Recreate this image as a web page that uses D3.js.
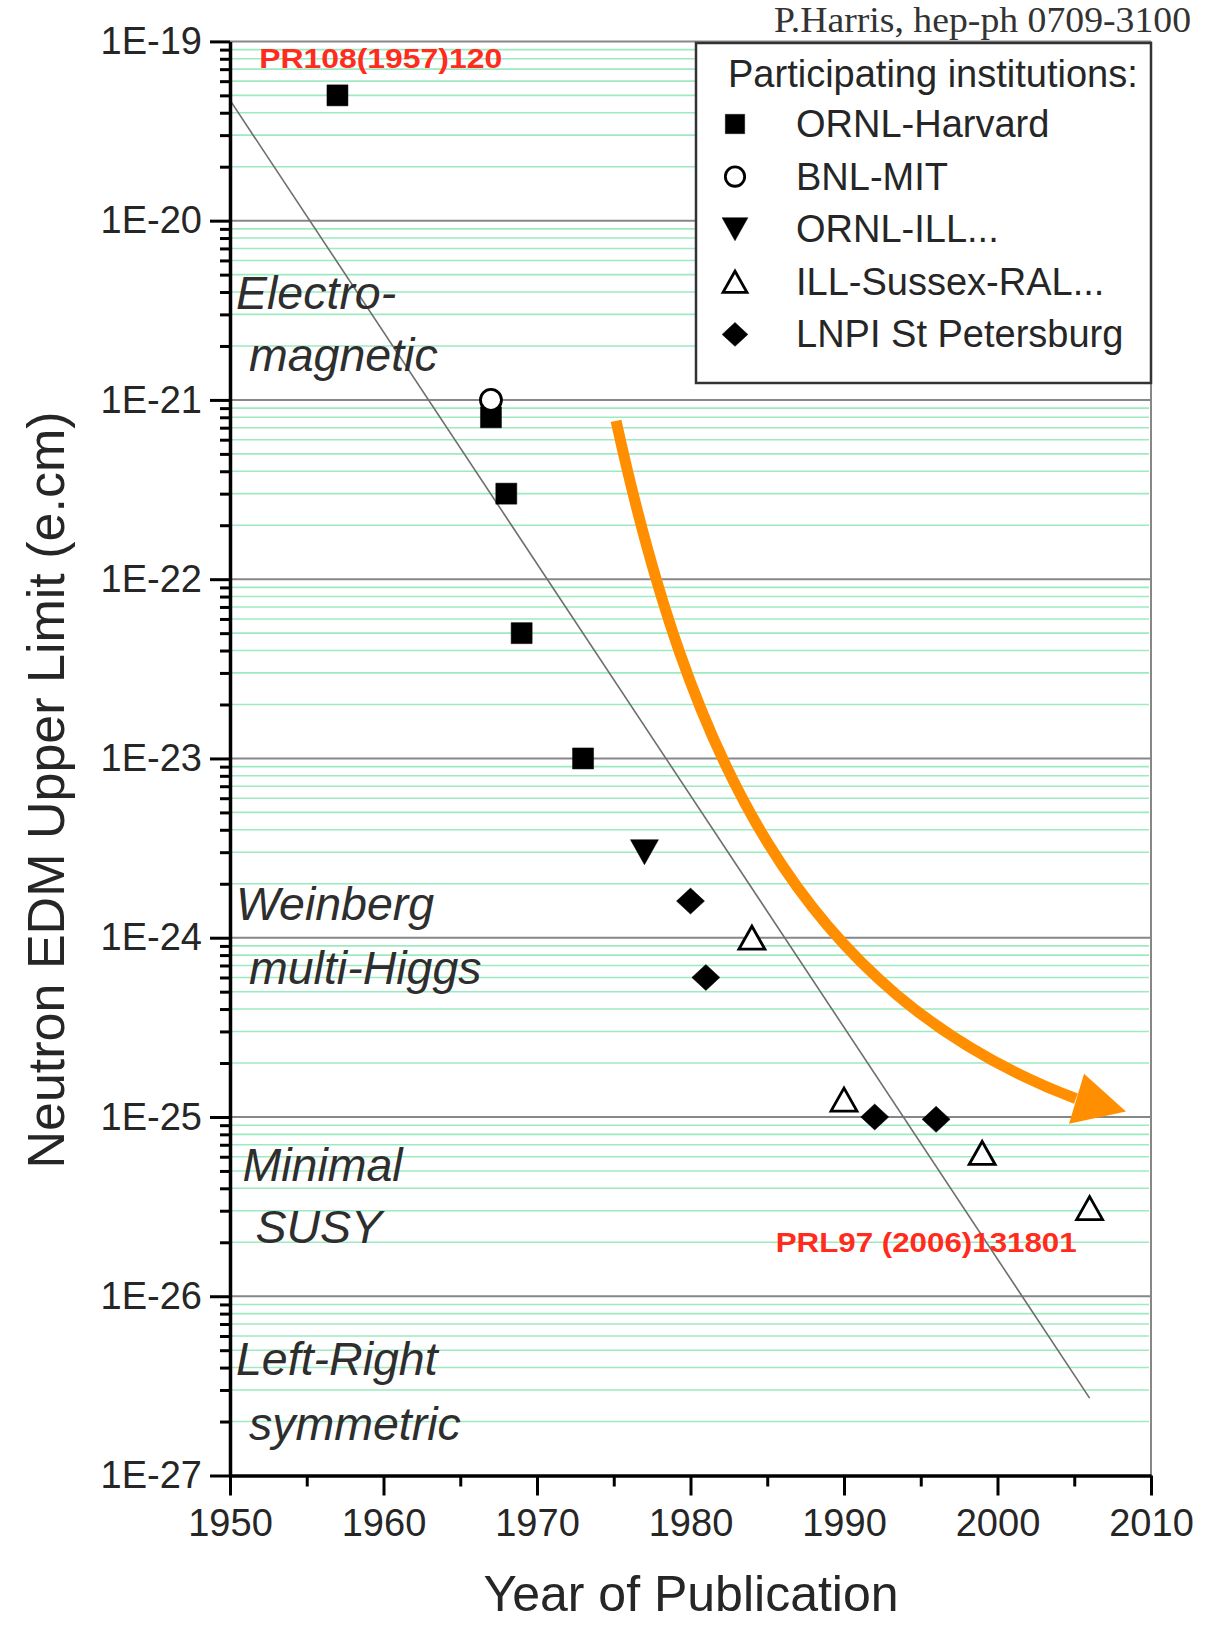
<!DOCTYPE html>
<html>
<head>
<meta charset="utf-8">
<script src="https://cdn.jsdelivr.net/npm/d3@7"></script>
<style>
  html, body { margin: 0; padding: 0; background: #fff; }
  svg { display: block; }
</style>
</head>
<body>
<svg id="chart" width="1206" height="1625"></svg>
<script>
// ---- Axis ticks ----
const yearTicks = [1950, 1960, 1970, 1980, 1990, 2000, 2010];
const minorYearTicks = [1955, 1965, 1975, 1985, 1995, 2005];
const decadeTicks = [1e-19, 1e-20, 1e-21, 1e-22, 1e-23, 1e-24, 1e-25, 1e-26, 1e-27];
const decadeLabels = ["1E-19", "1E-20", "1E-21", "1E-22", "1E-23", "1E-24", "1E-25", "1E-26", "1E-27"];

// ---- Measurements: neutron EDM upper limits (e.cm) by year of publication ----
const seriesNames = ["ORNL-Harvard", "BNL-MIT", "ORNL-ILL...", "ILL-Sussex-RAL...", "LNPI St Petersburg"];
const seriesShapes = ["square", "circle", "triangleDown", "triangleUp", "diamond"];

const ornlHarvardYears = [1957, 1967, 1968, 1969, 1973];
const ornlHarvardLimits = [5e-20, 8e-22, 3e-22, 5e-23, 1e-23];

const bnlMitYears = [1967];
const bnlMitLimits = [1e-21];

const ornlIllYears = [1977];
const ornlIllLimits = [3e-24];

const illSussexYears = [1984, 1990, 1999, 2006];
const illSussexLimits = [1e-24, 1.25e-25, 6.3e-26, 3.1e-26];

const lnpiYears = [1980, 1981, 1992, 1996];
const lnpiLimits = [1.6e-24, 6e-25, 1e-25, 9.7e-26];

// ---- Straight-line trend on the log scale ----
const trendYears = [1950, 2006];
const trendLimits = [4.7e-20, 2.7e-27];

// ---- Theory bands written along the left edge ----
const bandLines = ["Electro-", "magnetic", "Weinberg", "multi-Higgs", "Minimal", "SUSY", "Left-Right", "symmetric"];
const bandIndent = [0, 1, 0, 1, 0.5, 1.5, 0, 1];

// ---- Citations ----
const citeTexts = ["PR108(1957)120", "PRL97 (2006)131801"];
const citeYears = [1951.9, 1985.55];

// ---- Trend arrow: cubic Bezier control points (year, log10 limit) and head ----
const arrowCurveYears = [1975.15, 1979.88, 1986.87, 2005.11];
const arrowCurveLogs = [-21.117, -22.958, -24.305, -24.898];
const arrowHeadYears = [2008.37, 2005.64, 2004.66];
const arrowHeadLogs = [-24.970, -24.759, -25.038];

const series = [
  { years: ornlHarvardYears, limits: ornlHarvardLimits },
  { years: bnlMitYears, limits: bnlMitLimits },
  { years: ornlIllYears, limits: ornlIllLimits },
  { years: illSussexYears, limits: illSussexLimits },
  { years: lnpiYears, limits: lnpiLimits }
];

const svg = d3.select("#chart");
const sans = "'Liberation Sans', Arial, Helvetica, sans-serif";

const x = d3.scaleLinear().domain([1950, 2010]).range([230, 1151]);
const y = d3.scaleLog().domain([1e-19, 1e-27]).range([41.4, 1475.5]);
const [x0, x1] = x.range();
const [yTop, yBot] = y.range();

// minor decade ticks 2..9 within each decade
const minorValues = [];
for (let e = -27; e <= -20; e++) {
  for (let k = 2; k <= 9; k++) minorValues.push(+(k + "e" + e));
}

// ---- grid ----
const grid = svg.append("g");
grid.selectAll("line.minor")
  .data(minorValues)
  .join("line")
  .attr("x1", x0 + 2).attr("x2", x1 - 2)
  .attr("y1", d => y(d)).attr("y2", d => y(d))
  .attr("stroke", "#9eeac0")
  .attr("stroke-width", 1.6);

grid.selectAll("line.major")
  .data(decadeTicks.slice(0, -1))
  .join("line")
  .attr("x1", x0).attr("x2", x1)
  .attr("y1", d => y(d)).attr("y2", d => y(d))
  .attr("stroke", "#878787")
  .attr("stroke-width", 2);

// right frame edge
svg.append("line")
  .attr("x1", x1).attr("x2", x1)
  .attr("y1", yTop).attr("y2", yBot)
  .attr("stroke", "#878787").attr("stroke-width", 2);

// ---- trend line ----
svg.append("path")
  .datum(trendYears.map((yr, i) => [yr, trendLimits[i]]))
  .attr("d", d3.line().x(d => x(d[0])).y(d => y(d[1])))
  .attr("fill", "none")
  .attr("stroke", "#6e6e6e")
  .attr("stroke-width", 1.6);

// ---- marker shapes ----
function markerPath(shape, s) {
  const p = d3.path();
  if (shape === "square") {
    const h = 10.5 * s;
    p.rect(-h, -h, 2 * h, 2 * h);
  } else if (shape === "circle") {
    p.arc(0, 0, 10.5 * s, 0, 2 * Math.PI);
  } else if (shape === "triangleDown") {
    const w = 14 * s, h = 12.5 * s;
    p.moveTo(-w, -h); p.lineTo(w, -h); p.lineTo(0, h); p.closePath();
  } else if (shape === "triangleUp") {
    const w = 13 * s, h = 11.5 * s;
    p.moveTo(-w, h); p.lineTo(w, h); p.lineTo(0, -h); p.closePath();
  } else if (shape === "diamond") {
    const w = 14 * s, h = 13 * s;
    p.moveTo(0, -h); p.lineTo(w, 0); p.lineTo(0, h); p.lineTo(-w, 0); p.closePath();
  }
  return p.toString();
}
const filledShape = { square: true, circle: false, triangleDown: true, triangleUp: false, diamond: true };

function drawMarker(sel, shape, s) {
  const filled = filledShape[shape];
  sel.attr("d", markerPath(shape, s))
    .attr("fill", filled ? "#000" : "#fff")
    .attr("stroke", "#000")
    .attr("stroke-width", filled ? 0.5 : 2.8)
    .attr("stroke-linejoin", "miter");
}

// ---- data points ----
series.forEach((sr, si) => {
  const pts = sr.years.map((yr, i) => [yr, sr.limits[i]]);
  svg.append("g").selectAll("path")
    .data(pts)
    .join("path")
    .attr("transform", d => `translate(${x(d[0])},${y(d[1])})`)
    .each(function () { drawMarker(d3.select(this), seriesShapes[si], 1); });
});

// ---- trend arrow ----
const ac = arrowCurveYears.map((yr, i) => [x(yr), y(Math.pow(10, arrowCurveLogs[i]))]);
const arrowPath = d3.path();
arrowPath.moveTo(ac[0][0], ac[0][1]);
arrowPath.bezierCurveTo(ac[1][0], ac[1][1], ac[2][0], ac[2][1], ac[3][0], ac[3][1]);
svg.append("path")
  .attr("d", arrowPath.toString())
  .attr("fill", "none")
  .attr("stroke", "#ff8f00")
  .attr("stroke-width", 11);
svg.append("path")
  .datum(arrowHeadYears.map((yr, i) => [x(yr), y(Math.pow(10, arrowHeadLogs[i]))]))
  .attr("d", d => "M" + d.map(p => p.join(",")).join("L") + "Z")
  .attr("fill", "#ff8f00");

// ---- theory band captions ----
const bandBaselines = [309, 371, 920, 984, 1181, 1243, 1375, 1440];
svg.append("g").selectAll("text")
  .data(bandLines)
  .join("text")
  .attr("x", (d, i) => x0 + 6 + bandIndent[i] * 13)
  .attr("y", (d, i) => bandBaselines[i])
  .attr("font-family", sans)
  .attr("font-style", "italic")
  .attr("font-size", 46.5)
  .attr("fill", "#2e2e2e")
  .text(d => d);

// ---- citations ----
const citeWidths = [243, 301];
const citeBaselines = [68, 1252];
svg.append("g").selectAll("text")
  .data(citeTexts)
  .join("text")
  .attr("x", (d, i) => x(citeYears[i]))
  .attr("y", (d, i) => citeBaselines[i])
  .attr("font-family", sans)
  .attr("font-weight", "bold")
  .attr("font-size", 28)
  .attr("fill", "#ff2b1c")
  .attr("textLength", (d, i) => citeWidths[i])
  .attr("lengthAdjust", "spacingAndGlyphs")
  .text(d => d);

// ---- axes ----
const yAxis = svg.append("g")
  .attr("transform", `translate(${x0},0)`)
  .call(d3.axisLeft(y).tickValues(decadeTicks)
    .tickFormat((d, i) => decadeLabels[i])
    .tickSize(20).tickSizeOuter(0).tickPadding(8));
yAxis.select(".domain").attr("stroke", "#000").attr("stroke-width", 3.5);
yAxis.selectAll(".tick line").attr("stroke", "#000").attr("stroke-width", 3);
yAxis.selectAll(".tick text")
  .attr("font-family", sans).attr("font-size", 38).attr("fill", "#262626");

const yMinor = svg.append("g")
  .attr("transform", `translate(${x0},0)`)
  .call(d3.axisLeft(y).tickValues(minorValues).tickFormat("").tickSize(10).tickSizeOuter(0));
yMinor.select(".domain").remove();
yMinor.selectAll(".tick line").attr("stroke", "#000").attr("stroke-width", 3);

const xAxis = svg.append("g")
  .attr("transform", `translate(0,${yBot})`)
  .call(d3.axisBottom(x).tickValues(yearTicks).tickFormat(d3.format("d"))
    .tickSize(20).tickSizeOuter(0).tickPadding(14));
xAxis.select(".domain").attr("stroke", "#000").attr("stroke-width", 3.5);
xAxis.selectAll(".tick line").attr("stroke", "#000").attr("stroke-width", 3);
xAxis.selectAll(".tick text")
  .attr("font-family", sans).attr("font-size", 38).attr("fill", "#262626");

const xMinor = svg.append("g")
  .attr("transform", `translate(0,${yBot})`)
  .call(d3.axisBottom(x).tickValues(minorYearTicks).tickFormat("").tickSize(11).tickSizeOuter(0));
xMinor.select(".domain").remove();
xMinor.selectAll(".tick line").attr("stroke", "#000").attr("stroke-width", 3);

// axis titles
svg.append("text")
  .attr("transform", "translate(64,790) rotate(-90)")
  .attr("text-anchor", "middle")
  .attr("font-family", sans).attr("font-size", 52).attr("fill", "#262626")
  .text("Neutron EDM Upper Limit (e.cm)");

svg.append("text")
  .attr("x", 691).attr("y", 1611)
  .attr("text-anchor", "middle")
  .attr("font-family", sans).attr("font-size", 50).attr("fill", "#262626")
  .text("Year of Publication");

// source note
svg.append("text")
  .attr("x", 1191).attr("y", 32)
  .attr("text-anchor", "end")
  .attr("font-family", "'Liberation Serif', 'Times New Roman', serif")
  .attr("font-size", 36).attr("fill", "#333")
  .attr("textLength", 417).attr("lengthAdjust", "spacingAndGlyphs")
  .text("P.Harris, hep-ph 0709-3100");

// ---- legend ----
const legend = svg.append("g").attr("transform", "translate(696,43)");
legend.append("rect")
  .attr("width", 455).attr("height", 340)
  .attr("fill", "#fff").attr("stroke", "#333").attr("stroke-width", 2.5);
legend.append("text")
  .attr("x", 32).attr("y", 44)
  .attr("font-family", sans).attr("font-size", 38).attr("fill", "#262626")
  .text("Participating institutions:");
const rows = legend.selectAll("g.row")
  .data(seriesNames)
  .join("g")
  .attr("transform", (d, i) => `translate(0,${81 + i * 52.6})`);
rows.append("path")
  .attr("transform", "translate(39,0)")
  .each(function (d, i) { drawMarker(d3.select(this), seriesShapes[i], 0.92); });
rows.append("text")
  .attr("x", 100).attr("y", 13)
  .attr("font-family", sans).attr("font-size", 38).attr("fill", "#262626")
  .text(d => d);
</script>
</body>
</html>
